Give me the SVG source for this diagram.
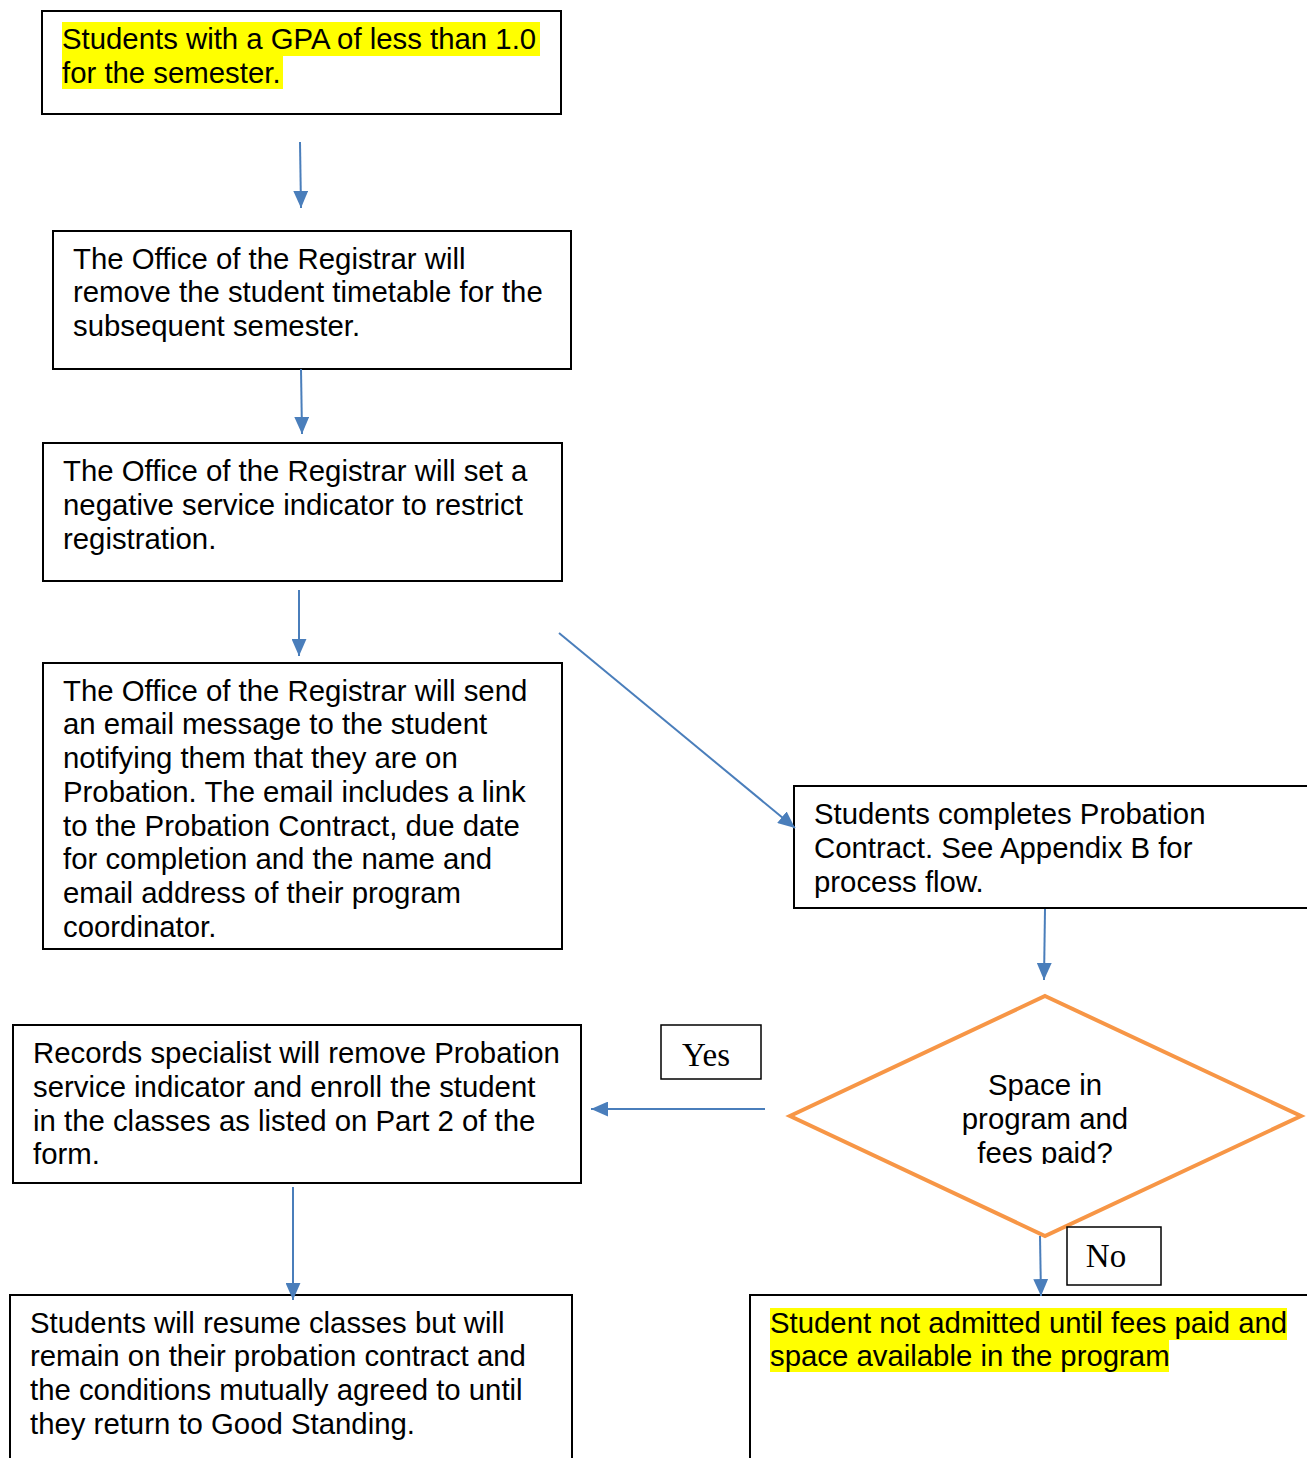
<svg xmlns="http://www.w3.org/2000/svg" width="1307" height="1458" viewBox="0 0 1307 1458">
<style>
.box{fill:#fff;stroke:#000;stroke-width:2}
.t{font-family:"Liberation Sans",Arial,sans-serif;font-size:29.35px;fill:#000}
.c{text-anchor:middle}
.s{font-family:"Liberation Serif","Times New Roman",serif;font-size:33px;fill:#000;text-anchor:middle}
.hl{fill:#ffff00}
.con{stroke:#4a7ebb;stroke-width:2;fill:none;marker-end:url(#ah)}
</style>
<defs>
<marker id="ah" viewBox="0 0 16 14" refX="16" refY="7" markerWidth="8.5" markerHeight="7.5" orient="auto">
<path d="M0,0 L16,7 L0,14 z" fill="#4a7ebb"/>
</marker>
<clipPath id="dclip"><rect x="790" y="990" width="520" height="174"/></clipPath>
</defs>
<rect width="1307" height="1458" fill="#fff"/>
<g id="n1">
<rect class="box" x="42" y="11" width="519" height="103"/>
<rect class="hl" x="62" y="22" width="478" height="34"/>
<rect class="hl" x="62" y="56" width="221" height="33"/>
<text class="t" x="62" y="49">Students with a GPA of less than 1.0</text>
<text class="t" x="62" y="83">for the semester.</text>
</g>
<g id="n2">
<rect class="box" x="53" y="231" width="518" height="138"/>
<text class="t" x="73" y="269">The Office of the Registrar will</text>
<text class="t" x="73" y="302">remove the student timetable for the</text>
<text class="t" x="73" y="336">subsequent semester.</text>
</g>
<g id="n3">
<rect class="box" x="43" y="443" width="519" height="138"/>
<text class="t" x="63" y="481">The Office of the Registrar will set a</text>
<text class="t" x="63" y="515">negative service indicator to restrict</text>
<text class="t" x="63" y="549">registration.</text>
</g>
<g id="n4">
<rect class="box" x="43" y="663" width="519" height="286"/>
<text class="t" x="63" y="701">The Office of the Registrar will send</text>
<text class="t" x="63" y="734">an email message to the student</text>
<text class="t" x="63" y="768">notifying them that they are on</text>
<text class="t" x="63" y="802">Probation. The email includes a link</text>
<text class="t" x="63" y="836">to the Probation Contract, due date</text>
<text class="t" x="63" y="869">for completion and the name and</text>
<text class="t" x="63" y="903">email address of their program</text>
<text class="t" x="63" y="937">coordinator.</text>
</g>
<g id="n5">
<rect class="box" x="794" y="786" width="520" height="122"/>
<text class="t" x="814" y="824">Students completes Probation</text>
<text class="t" x="814" y="858">Contract. See Appendix B for</text>
<text class="t" x="814" y="892">process flow.</text>
</g>
<g id="n6">
<polygon points="1045,996 1301,1116 1045,1236 790,1116" fill="#fff" stroke="#f79646" stroke-width="4"/>
<g clip-path="url(#dclip)">
<text class="t c" x="1045" y="1095">Space in</text>
<text class="t c" x="1045" y="1129">program and</text>
<text class="t c" x="1045" y="1163">fees paid?</text>
</g>
</g>
<g id="n7">
<rect class="box" x="13" y="1025" width="568" height="158"/>
<text class="t" x="33" y="1063">Records specialist will remove Probation</text>
<text class="t" x="33" y="1097">service indicator and enroll the student</text>
<text class="t" x="33" y="1131">in the classes as listed on Part 2 of the</text>
<text class="t" x="33" y="1164">form.</text>
</g>
<g id="n8">
<rect class="box" x="10" y="1295" width="562" height="175"/>
<text class="t" x="30" y="1333">Students will resume classes but will</text>
<text class="t" x="30" y="1366">remain on their probation contract and</text>
<text class="t" x="30" y="1400">the conditions mutually agreed to until</text>
<text class="t" x="30" y="1434">they return to Good Standing.</text>
</g>
<g id="n9">
<rect class="box" x="750" y="1295" width="570" height="175"/>
<rect class="hl" x="770" y="1308" width="517" height="32"/>
<rect class="hl" x="770" y="1340" width="399" height="32"/>
<text class="t" x="770" y="1333">Student not admitted until fees paid and</text>
<text class="t" x="770" y="1366">space available in the program</text>
</g>
<g id="lblYes">
<rect x="661" y="1025" width="100" height="54" fill="#fff" stroke="#000" stroke-width="1.5"/>
<text class="s" x="706" y="1066">Yes</text>
</g>
<g id="lblNo">
<rect x="1067" y="1227" width="94" height="58" fill="#fff" stroke="#000" stroke-width="1.5"/>
<text class="s" x="1106" y="1267">No</text>
</g>
<g id="connectors">
<line class="con" x1="300" y1="142" x2="301" y2="208"/>
<line class="con" x1="301" y1="369" x2="302" y2="434"/>
<line class="con" x1="299" y1="590" x2="299" y2="656"/>
<line class="con" x1="559" y1="633" x2="795" y2="828"/>
<line class="con" x1="1045" y1="909" x2="1044" y2="980"/>
<line class="con" x1="765" y1="1109" x2="591" y2="1109"/>
<line class="con" x1="1040" y1="1236" x2="1041" y2="1296"/>
<line class="con" x1="293" y1="1187" x2="293" y2="1300"/>
</g>
</svg>
